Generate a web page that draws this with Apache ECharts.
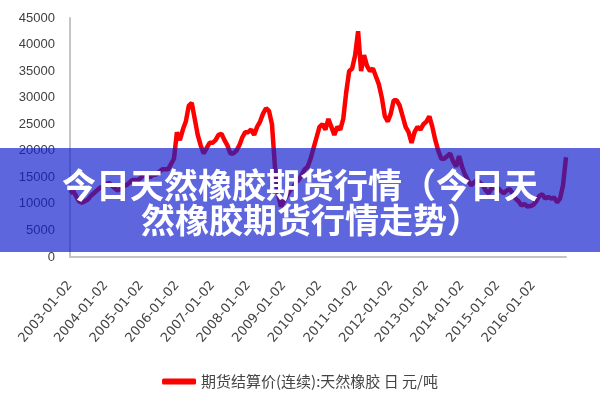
<!DOCTYPE html>
<html>
<head>
<meta charset="utf-8">
<script src="https://cdn.jsdelivr.net/npm/echarts@6/dist/echarts.min.js"></script>
<style>html,body{margin:0;padding:0;background:#fff}#c{width:600px;height:400px}</style>
</head>
<body>
<div id="c"></div>
<script>
// Monthly settlement prices (元/吨)
const years = [2003,2004,2005,2006,2007,2008,2009,2010,2011,2012,2013,2014,2015,2016];
const p2003 = [12000,12500,11500,10500,10200,10500,10800,11500,12000,12500,13000,13200];
const p2004 = [13500,14000,13500,13000,12500,12800,13500,13500,14000,14500,14500,14500];
const p2005 = [15000,15500,15500,15000,15500,15500,16000,16500,16500,16500,17500,18500];
const p2006 = [23500,22000,24000,25500,28500,29000,26000,23000,21000,19500,20500,21500];
const p2007 = [21500,22000,23000,23200,22000,21000,19500,19500,20000,21000,22500,23500];
const p2008 = [23500,24000,23000,24500,25500,27000,28000,27500,25000,17000,12000,9500];
const p2009 = [10500,11500,12500,13000,14000,14500,15500,16500,17000,18500,20500,22500];
const p2010 = [24500,25000,24000,26000,24500,23000,24500,24000,26000,31000,35000,35500];
const p2011 = [38000,42500,35000,38000,36000,35000,35500,34000,32500,30000,26500,25500];
const p2012 = [27000,29500,29500,28500,26500,24500,23500,21500,23500,24500,24000,25000];
const p2013 = [25500,26500,24500,22000,20000,18500,18500,19000,19500,18000,17000,19000];
const p2014 = [17000,15500,14500,13500,14000,14500,14000,13500,12500,12000,13000,13000];
const p2015 = [13000,12500,12000,12500,12800,12000,11000,10500,9700,10000,9500,9600];
const p2016 = [9800,10500,11500,11800,11000,11300,11000,11200,10300,11000,13500,18800];
const yearly = [p2003,p2004,p2005,p2006,p2007,p2008,p2009,p2010,p2011,p2012,p2013,p2014,p2015,p2016];

const seriesName = '期货结算价(连续):天然橡胶 日 元/吨';
const bannerLine1 = '今日天然橡胶期货行情（今日天';
const bannerLine2 = '然橡胶期货行情走势）';

const categories = [];
const values = [];
years.forEach((y, i) => {
  yearly[i].forEach((v, m) => {
    categories.push(y + '-' + String(m + 1).padStart(2, '0') + '-02');
    values.push(v);
  });
});

const chart = echarts.init(document.getElementById('c'), null, {renderer: 'canvas'});
chart.setOption({
  animation: false,
  backgroundColor: '#ffffff',
  grid: {left: 70, right: 34, top: 18, bottom: 143},
  legend: {
    data: [seriesName],
    left: 'center',
    top: 369,
    icon: 'roundRect',
    itemWidth: 34,
    itemHeight: 6,
    textStyle: {fontSize: 15, fontFamily: '"Noto Sans CJK SC"', color: '#444'}
  },
  xAxis: {
    type: 'category',
    data: categories,
    boundaryGap: false,
    axisLine: {show: true, lineStyle: {color: '#c4c4c4', width: 2}},
    axisTick: {show: false},
    splitLine: {show: false},
    axisLabel: {
      interval: 11,
      rotate: 50,
      margin: 26,
      fontSize: 13,
      fontFamily: '"DejaVu Sans"',
      color: '#444'
    }
  },
  yAxis: {
    type: 'value',
    min: 0,
    max: 45000,
    interval: 5000,
    axisLine: {show: true, lineStyle: {color: '#c4c4c4', width: 2}},
    axisTick: {show: false},
    splitLine: {show: false},
    axisLabel: {
      margin: 15, fontSize: 13, fontFamily: '"Liberation Sans"', color: '#404040',
      formatter: v => String(v)
    }
  },
  series: [{
    name: seriesName,
    type: 'line',
    data: values,
    symbol: 'none',
    smooth: false,
    lineStyle: {color: '#ff0000', width: 4.5},
    itemStyle: {color: '#ff0000'}
  }],
  graphic: [
    {
      type: 'rect',
      z: 100,
      shape: {x: 0, y: 148, width: 600, height: 104},
      style: {fill: 'rgba(18,30,205,0.68)'}
    },
    {
      type: 'text',
      z: 101,
      style: {
        text: bannerLine1, x: 62, y: 185,
        fill: '#ffffff', fontSize: 34, fontWeight: 'bold',
        fontFamily: '"Noto Sans CJK SC"', align: 'left', verticalAlign: 'middle'
      }
    },
    {
      type: 'text',
      z: 101,
      style: {
        text: bannerLine2, x: 141, y: 220,
        fill: '#ffffff', fontSize: 34, fontWeight: 'bold',
        fontFamily: '"Noto Sans CJK SC"', align: 'left', verticalAlign: 'middle'
      }
    }
  ]
});
</script>
</body>
</html>
